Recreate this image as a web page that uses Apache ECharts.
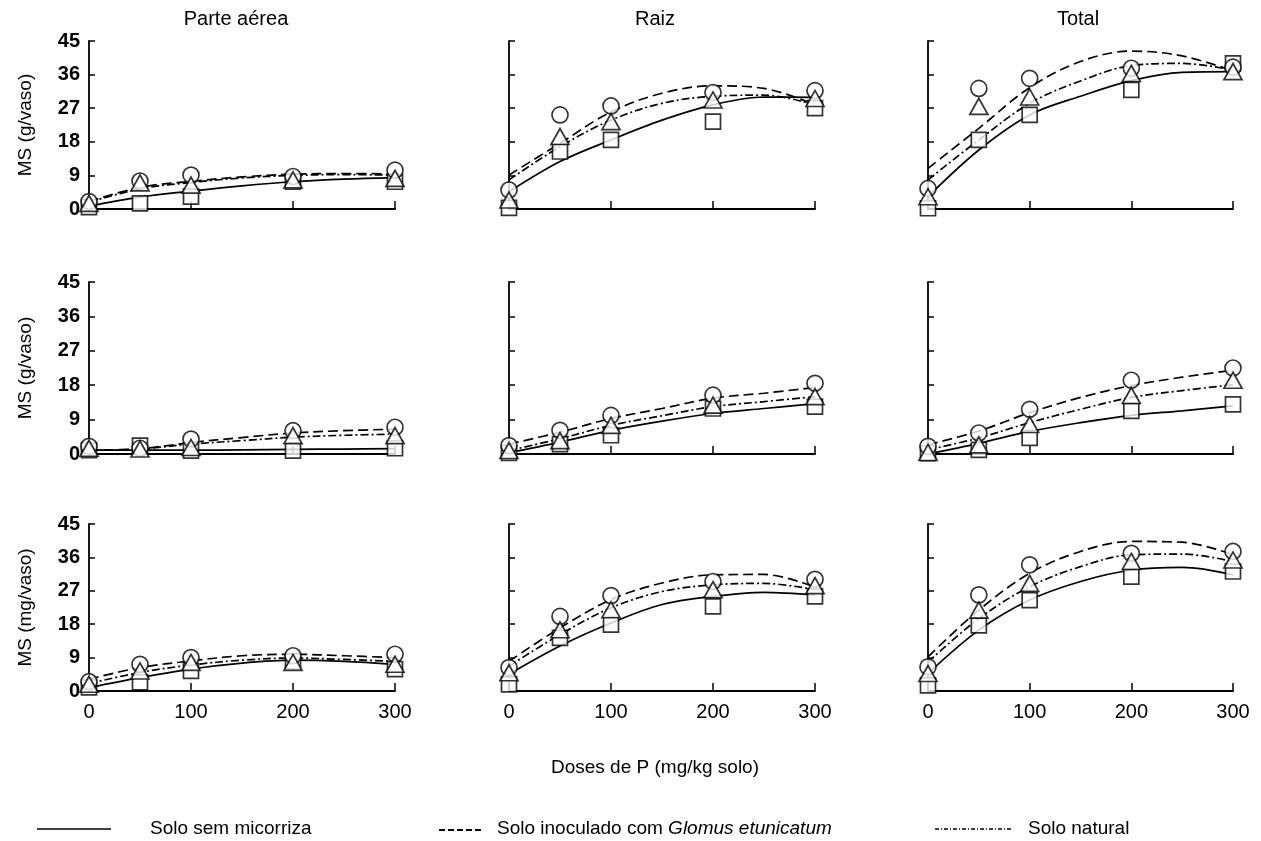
<!DOCTYPE html>
<html><head><meta charset="utf-8">
<script src="https://cdn.jsdelivr.net/npm/echarts/dist/echarts.min.js"></script>
<style>html,body{margin:0;padding:0;background:#fff}#c{width:1261px;height:841px}</style>
</head><body><div id="c"></div>
<script>
// ---------- data ----------
const doses = [0, 50, 100, 200, 300];
const fitX = [0, 50, 100, 150, 200, 250, 300];
const xTicks = [0, 100, 200, 300];
const yTicks = [0, 9, 18, 27, 36, 45];
const columnTitles = ['Parte aérea', 'Raiz', 'Total'];
const rowUnits = ['MS (g/vaso)', 'MS (g/vaso)', 'MS (mg/vaso)'];
const xTitle = 'Doses de P (mg/kg solo)';
const nameSem = 'Solo sem micorriza';
const nameInocA = 'Solo inoculado com ';
const nameInocB = 'Glomus etunicatum';
const nameNat = 'Solo natural';

// row 1
const r1c1Sem = [0.5, 1.5, 3.3, 7.3, 7.3];
const r1c1Inoc = [2.0, 7.5, 9.1, 8.7, 10.4];
const r1c1Nat = [1.5, 7.0, 6.4, 7.8, 8.2];
const r1c1SemFit = [0.8, 3.2, 4.8, 6.2, 7.3, 8.0, 8.4];
const r1c1InocFit = [2.0, 5.8, 7.4, 8.6, 9.3, 9.5, 9.4];
const r1c1NatFit = [1.8, 5.4, 7.1, 8.3, 9.0, 9.2, 9.1];

const r1c2Sem = [0.3, 15.4, 18.5, 23.4, 27.0];
const r1c2Inoc = [5.1, 25.2, 27.6, 31.2, 31.7];
const r1c2Nat = [2.4, 19.4, 23.4, 29.2, 29.6];
const r1c2SemFit = [4.6, 12.7, 18.5, 23.8, 27.9, 30.0, 29.9];
const r1c2InocFit = [9.1, 17.6, 26.0, 31.0, 33.0, 32.3, 27.9];
const r1c2NatFit = [7.8, 16.7, 23.8, 28.3, 30.2, 30.5, 27.9];

const r1c3Sem = [0.2, 18.5, 25.2, 31.9, 39.0];
const r1c3Inoc = [5.5, 32.3, 35.0, 37.7, 38.0];
const r1c3Nat = [3.3, 27.5, 30.0, 36.3, 36.8];
const r1c3SemFit = [3.3, 15.8, 25.2, 30.2, 34.4, 36.6, 36.8];
const r1c3InocFit = [10.9, 21.6, 32.5, 39.5, 42.3, 41.0, 37.0];
const r1c3NatFit = [7.8, 18.5, 28.3, 34.3, 38.4, 39.0, 37.2];

// row 2
const r2c1Sem = [1.0, 2.2, 0.9, 0.9, 1.5];
const r2c1Inoc = [2.0, 1.5, 3.9, 6.1, 7.0];
const r2c1Nat = [1.5, 1.3, 1.7, 4.8, 4.8];
const r2c1SemFit = [1.0, 1.0, 1.0, 1.1, 1.2, 1.3, 1.4];
const r2c1InocFit = [1.0, 1.4, 3.0, 4.3, 5.5, 6.1, 6.5];
const r2c1NatFit = [1.0, 1.3, 2.6, 3.5, 4.4, 4.9, 5.2];

const r2c2Sem = [0.3, 2.6, 4.9, 11.9, 12.4];
const r2c2Inoc = [2.2, 6.2, 10.1, 15.4, 18.5];
const r2c2Nat = [0.9, 3.5, 7.5, 12.8, 15.0];
const r2c2SemFit = [0.3, 3.1, 6.2, 8.6, 10.6, 11.9, 13.2];
const r2c2InocFit = [2.6, 5.7, 9.3, 11.9, 14.6, 15.9, 17.4];
const r2c2NatFit = [0.9, 4.0, 7.5, 10.0, 12.4, 13.7, 15.0];

const r2c3Sem = [0.2, 1.1, 4.2, 11.3, 13.0];
const r2c3Inoc = [2.0, 5.5, 11.7, 19.3, 22.5];
const r2c3Nat = [0.4, 2.4, 7.7, 15.3, 19.3];
const r2c3SemFit = [0.0, 2.8, 5.9, 8.2, 10.1, 11.3, 12.6];
const r2c3InocFit = [2.4, 6.0, 10.8, 14.8, 17.9, 20.1, 21.9];
const r2c3NatFit = [1.1, 4.2, 8.2, 11.7, 14.8, 16.6, 18.1];

// row 3
const r3c1Sem = [1.0, 2.3, 5.4, 8.0, 5.9];
const r3c1Inoc = [2.5, 7.2, 9.0, 9.5, 9.9];
const r3c1Nat = [1.8, 5.4, 7.7, 7.7, 7.2];
const r3c1SemFit = [0.9, 3.6, 5.9, 7.5, 8.3, 8.0, 7.2];
const r3c1InocFit = [3.2, 6.3, 8.1, 9.5, 9.9, 9.5, 9.0];
const r3c1NatFit = [2.0, 5.0, 7.0, 8.3, 8.9, 8.5, 8.0];

const r3c2Sem = [1.8, 14.3, 17.9, 22.8, 25.5];
const r3c2Inoc = [6.3, 20.1, 25.7, 29.5, 30.1];
const r3c2Nat = [4.9, 16.5, 21.9, 27.3, 28.4];
const r3c2SemFit = [4.5, 12.1, 18.3, 23.3, 25.5, 26.6, 25.9];
const r3c2InocFit = [8.0, 17.0, 24.6, 29.1, 31.3, 31.4, 28.0];
const r3c2NatFit = [6.7, 15.2, 22.4, 26.8, 28.6, 29.0, 27.3];

const r3c3Sem = [1.5, 17.7, 24.5, 30.8, 32.2];
const r3c3Inoc = [6.5, 25.9, 34.0, 37.1, 37.6];
const r3c3Nat = [4.7, 21.8, 29.0, 34.9, 35.3];
const r3c3SemFit = [4.7, 16.4, 24.5, 29.5, 32.6, 33.3, 31.3];
const r3c3InocFit = [9.2, 21.8, 31.7, 37.6, 40.3, 40.1, 36.7];
const r3c3NatFit = [7.8, 19.5, 28.1, 33.5, 36.7, 36.9, 34.9];

// ---------- layout ----------
const panels = [
  [[r1c1Sem, r1c1Inoc, r1c1Nat, r1c1SemFit, r1c1InocFit, r1c1NatFit],
   [r1c2Sem, r1c2Inoc, r1c2Nat, r1c2SemFit, r1c2InocFit, r1c2NatFit],
   [r1c3Sem, r1c3Inoc, r1c3Nat, r1c3SemFit, r1c3InocFit, r1c3NatFit]],
  [[r2c1Sem, r2c1Inoc, r2c1Nat, r2c1SemFit, r2c1InocFit, r2c1NatFit],
   [r2c2Sem, r2c2Inoc, r2c2Nat, r2c2SemFit, r2c2InocFit, r2c2NatFit],
   [r2c3Sem, r2c3Inoc, r2c3Nat, r2c3SemFit, r2c3InocFit, r2c3NatFit]],
  [[r3c1Sem, r3c1Inoc, r3c1Nat, r3c1SemFit, r3c1InocFit, r3c1NatFit],
   [r3c2Sem, r3c2Inoc, r3c2Nat, r3c2SemFit, r3c2InocFit, r3c2NatFit],
   [r3c3Sem, r3c3Inoc, r3c3Nat, r3c3SemFit, r3c3InocFit, r3c3NatFit]]
];
const colLeft = [89, 509, 928];
const colWidth = [306, 306, 305];
const rowTop = [41, 282, 524];
const rowHeight = [168, 172, 167];
const titleX = [236, 655, 1078];
const FONT = '"Liberation Sans", Arial, Helvetica, sans-serif';

const dashStyles = ['solid', [10, 5], [8, 3, 2, 3]];
const symbols = ['rect', 'circle', 'triangle'];
const symbolSizes = [15, 16, [18, 16]];
const seriesNames = [nameSem, nameInocA + nameInocB, nameNat];

const grid = [], xAxis = [], yAxis = [], series = [];
let gi = 0;
for (let r = 0; r < 3; r++) {
  for (let c = 0; c < 3; c++) {
    grid.push({ left: colLeft[c], top: rowTop[r], width: colWidth[c], height: rowHeight[r], containLabel: false });
    xAxis.push({
      gridIndex: gi, type: 'value', min: xTicks[0], max: xTicks[xTicks.length - 1], interval: xTicks[1] - xTicks[0],
      axisLine: { lineStyle: { color: '#000', width: 1.8 } },
      axisTick: { show: true, inside: true, length: 8, lineStyle: { color: '#000', width: 1.5 } },
      splitLine: { show: false },
      axisLabel: { show: r === 2, color: '#000', fontSize: 20, fontFamily: FONT, margin: 11 }
    });
    yAxis.push({
      gridIndex: gi, type: 'value', min: yTicks[0], max: yTicks[yTicks.length - 1], interval: yTicks[1] - yTicks[0],
      axisLine: { show: true, lineStyle: { color: '#000', width: 1.8 } },
      axisTick: { show: true, inside: true, length: 6, lineStyle: { color: '#000', width: 1.5 } },
      splitLine: { show: false },
      axisLabel: { show: c === 0, color: '#000', fontSize: 20, fontFamily: FONT, fontWeight: 'bold', margin: 9 },
      name: c === 0 ? rowUnits[r] : '', nameLocation: 'middle', nameGap: 54,
      nameTextStyle: { color: '#000', fontSize: 19, fontFamily: FONT }
    });
    const p = panels[r][c];
    for (let k = 0; k < 3; k++) {
      series.push({
        name: seriesNames[k], type: 'line', xAxisIndex: gi, yAxisIndex: gi,
        data: fitX.map((x, i) => [x, p[3 + k][i]]),
        smooth: 0.35, showSymbol: false, silent: true, z: 2,
        lineStyle: { color: '#000', width: 1.7, type: dashStyles[k] }
      });
    }
    for (let k = 0; k < 3; k++) {
      series.push({
        name: seriesNames[k], type: 'scatter', xAxisIndex: gi, yAxisIndex: gi,
        data: doses.map((x, i) => [x, p[k][i]]),
        symbol: symbols[k], symbolSize: symbolSizes[k], z: 3 + k,
        itemStyle: { color: '#fff', borderColor: '#000', borderWidth: 1.7 }
      });
    }
    gi++;
  }
}

const graphic = [];
columnTitles.forEach((t, i) => graphic.push({
  type: 'text', x: titleX[i], y: 19,
  style: { text: t, fill: '#000', font: '20px ' + FONT, textAlign: 'center', textVerticalAlign: 'middle' }
}));
graphic.push({
  type: 'text', x: 655, y: 768,
  style: { text: xTitle, fill: '#000', font: '19px ' + FONT, textAlign: 'center', textVerticalAlign: 'middle' }
});
// legend
const legY = 829;
graphic.push({ type: 'line', shape: { x1: 37, y1: legY, x2: 111, y2: legY }, style: { stroke: '#000', lineWidth: 1.6 } });
graphic.push({ type: 'text', x: 150, y: legY, style: { text: nameSem, fill: '#000', font: '19px ' + FONT, textVerticalAlign: 'middle' } });
graphic.push({ type: 'line', shape: { x1: 439, y1: legY + 1, x2: 484, y2: legY + 1 }, style: { stroke: '#000', lineWidth: 2, lineDash: [6, 3] } });
graphic.push({ type: 'text', x: 497, y: legY, style: {
  text: '{a|' + nameInocA + '}{b|' + nameInocB + '}', textVerticalAlign: 'middle',
  rich: { a: { fill: '#000', fontSize: 19, fontFamily: FONT }, b: { fill: '#000', fontSize: 19, fontFamily: FONT, fontStyle: 'italic' } }
} });
graphic.push({ type: 'line', shape: { x1: 935, y1: legY, x2: 1012, y2: legY }, style: { stroke: '#000', lineWidth: 1.3, lineDash: [4, 2, 1, 2] } });
graphic.push({ type: 'text', x: 1028, y: legY, style: { text: nameNat, fill: '#000', font: '19px ' + FONT, textVerticalAlign: 'middle' } });

const chart = echarts.init(document.getElementById('c'), null, { renderer: 'canvas' });
chart.setOption({
  backgroundColor: '#fff', animation: false,
  grid, xAxis, yAxis, series, graphic
});
</script></body></html>
